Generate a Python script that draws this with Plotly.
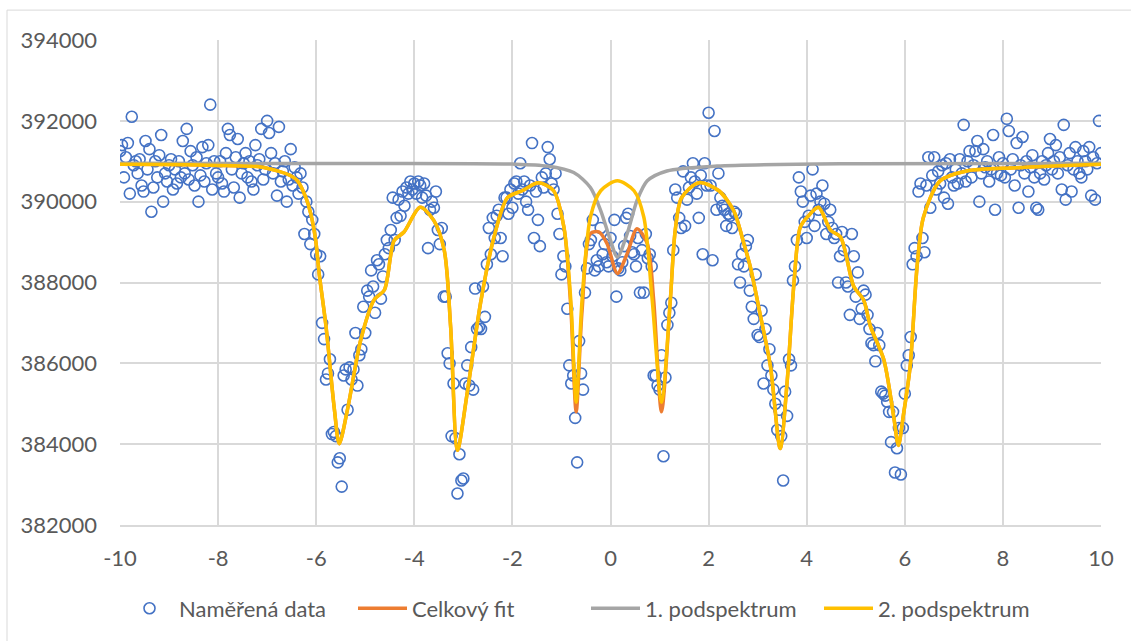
import numpy as np
import plotly.graph_objects as go

# ---------------- data ----------------
# velocity channels (mm/s), 501 channels from -10 to 10
velocity = np.round(np.linspace(-10, 10, 501), 2)

counts = [
    # -10.00 .. -9.04
    391250, 391400, 390600, 391100, 391450, 390200, 392100, 390900, 391000, 390700,
    391050, 390400, 390250, 391500, 390800, 391300, 389750, 390350, 391000, 390600,
    391150, 391650, 390000, 390700, 390500,
    # -9.00 .. -8.04
    390900, 391050, 390300, 390800, 390450, 391000, 390600, 391500, 390700, 391800,
    390550, 391250, 390900, 390400, 391100, 390000, 390650, 391350, 390500, 390950,
    391400, 392400, 390300, 391000, 390700,
    # -8.00 .. -7.04
    390600, 391000, 390450, 390250, 391200, 391800, 391650, 390800, 390350, 391100,
    391550, 390100, 390700, 390950, 391200, 390600, 391000, 390500, 390300, 391400,
    390900, 391050, 391800, 390550, 390800,
    # -7.00 .. -6.04
    392000, 391700, 391200, 390700, 390950, 390150, 391850, 390500, 390750, 391000,
    390000, 390550, 391300, 390400, 390850, 390600, 390200, 390700, 390350, 389200,
    390000, 389750, 388950, 389550, 389200,
    # -6.00 .. -5.04
    388700, 388200, 388650, 387000, 386600, 385600, 385750, 386100, 384250, 384300,
    384200, 383550, 383650, 382950, 385700, 385850, 384850, 385900, 385600, 385850,
    386750, 385450, 386200, 386350, 387400,
    # -5.00 .. -4.04
    386750, 387800, 387650, 388300, 387900, 387250, 388550, 388450, 387600, 388150,
    388700, 389050, 388850, 389300, 390100, 389050, 389600, 390050, 389650, 390250,
    389900, 390350, 390200, 390500, 390300,
    # -4.00 .. -3.04
    390450, 390200, 390500, 390400, 390100, 390450, 390150, 388850, 389800, 390000,
    389850, 390250, 389300, 388950, 389350, 387650, 387650, 386250, 386000, 384200,
    385500, 384150, 382780, 383750, 383100,
    # -3.00 .. -2.04
    383150, 385500, 385950, 385450, 386400, 385350, 387850, 386850, 386900, 386850,
    387900, 387150, 388450, 389350, 388700, 389600, 389100, 389650, 389800, 389100,
    388650, 390100, 390100, 389700, 390300,
    # -2.00 .. -1.04
    389850, 390450, 390500, 390200, 390950, 390300, 390500, 390000, 389800, 390400,
    391450, 389100, 390250, 389550, 388900, 390600, 390350, 390700, 391350, 391050,
    390450, 390300, 390700, 389700, 389200,
    # -1.00 .. -0.04
    388200, 388650, 388400, 387350, 385950, 385500, 385700, 384650, 383550, 386550,
    385750, 385350, 387750, 388350, 388950, 389050, 389550, 388300, 388550, 388400,
    389350, 388700, 388950, 388500, 388400,
    # 0.00 .. 0.96
    389100, 388650, 389550, 387650, 388350, 388300, 388500, 388900, 389600, 389700,
    389150, 388750, 388700, 388400, 389100, 387750, 388800, 387750, 389200, 388600,
    388700, 388400, 385700, 385700, 385450,
    # 1.00 .. 1.96
    385350, 386200, 383700, 385650, 386950, 387250, 387500, 388800, 390300, 390100,
    389600, 389350, 390750, 389400, 390050, 390350, 390600, 390950, 390500, 390200,
    389600, 390650, 388700, 390950, 390400,
    # 2.00 .. 2.96
    392200, 390400, 388550, 391750, 389800, 390700, 390100, 389900, 389800, 389400,
    389700, 389650, 389350, 389750, 389700, 388450, 388000, 388700, 388400, 388900,
    389050, 387800, 387400, 387100, 388200,
    # 3.00 .. 3.96
    386700, 386650, 387300, 385500, 386850, 385950, 386350, 385700, 385350, 385000,
    384350, 384850, 384200, 383100, 385300, 384700, 386100, 385950, 388050, 388400,
    389050, 390600, 390250, 390000, 389500,
    # 4.00 .. 4.96
    389100, 389650, 390150, 390800, 389400, 390200, 389800, 390000, 390400, 389950,
    389200, 389500, 389800, 389350, 389100, 389200, 388000, 388650, 389250, 388800,
    388000, 387900, 387200, 389200, 388650,
    # 5.00 .. 5.96
    387650, 388250, 387100, 387350, 387800, 387700, 387200, 386850, 386500, 386450,
    386050, 386750, 386450, 385300, 385250, 385200, 385050, 384800, 384050, 384800,
    383300, 383900, 384400, 383250, 384400,
    # 6.00 .. 6.96
    385250, 385950, 386200, 386650, 388450, 388850, 388650, 390250, 390450, 389100,
    388750, 390400, 391100, 389850, 390650, 391100, 390300, 390750, 390450, 390900,
    390100, 390950, 389950, 391050, 390600,
    # 7.00 .. 7.96
    390400, 390800, 390450, 391050, 390700, 391900, 390500, 391000, 391250, 390600,
    390900, 391250, 391500, 390000, 390700, 391300, 390850, 391000, 390500, 390800,
    391650, 389800, 390700, 391100, 390650,
    # 8.00 .. 8.96
    390950, 390600, 392050, 391750, 390800, 391050, 390400, 391450, 389850, 390900,
    391600, 390700, 391000, 390250, 390850, 391150, 390600, 389850, 389800, 390700,
    391000, 390550, 390900, 391200, 391550,
    # 9.00 .. 10.00
    390800, 391000, 391400, 390700, 391100, 390300, 391900, 390050, 390900, 391200,
    390250, 390800, 391350, 391000, 390700, 390600, 391250, 391000, 390800, 391350,
    390150, 391100, 390050, 390950, 392000, 391200,
]

# fitted curves (x in mm/s, y in counts)
sub2_x = [-10, -9, -8.15, -7.13, -6.79, -6.52, -6.38, -6.21, -6.11, -6.01, -5.94, -5.80,
          -5.63, -5.53, -5.36, -5.09, -4.82, -4.61, -4.41, -4.21, -3.88, -3.60, -3.39,
          -3.26, -3.12, -2.92, -2.65, -2.38, -2.10, -1.80, -1.47, -1.16, -0.95, -0.81,
          -0.70, -0.58, -0.41, -0.20, 0.14, 0.48, 0.68, 0.85, 1.04, 1.22, 1.32, 1.45,
          1.80, 2.21, 2.51, 2.72, 2.85, 3.06, 3.26, 3.46, 3.60, 3.74, 3.87, 4.04, 4.24,
          4.49, 4.69, 4.96, 5.16, 5.30, 5.57, 5.77, 5.87, 5.97, 6.11, 6.25, 6.38, 6.72,
          7.26, 8.28, 10]
sub2_y = [390925, 390920, 390900, 390860, 390760, 390640, 390515, 390100, 389700, 389040,
          388230, 386915, 384870, 384010, 384870, 386590, 387570, 387815, 389040, 389250,
          389860, 389530, 388800, 386915, 383850, 385280, 387490, 389100, 390100, 390270,
          390470, 390270, 389370, 387570, 385040, 387570, 389615, 390270, 390515, 390270,
          389615, 387570, 385040, 387570, 389300, 390100, 390470, 390270, 389780, 388960,
          388390, 387160, 385935, 383890, 385525, 387980, 389370, 389655, 389860, 389290,
          389125, 387900, 387570, 386915, 386100, 384710, 383970, 384710, 385935, 388390,
          389615, 390515, 390760, 390840, 390925]

total_x = [-10, -9, -8.15, -7.13, -6.79, -6.52, -6.38, -6.21, -6.11, -6.01, -5.94, -5.80,
           -5.63, -5.53, -5.36, -5.09, -4.82, -4.61, -4.41, -4.21, -3.88, -3.60, -3.39,
           -3.26, -3.12, -2.92, -2.65, -2.38, -2.10, -1.80, -1.47, -1.16, -0.95, -0.81,
           -0.70, -0.58, -0.41, -0.24, -0.07, 0.14, 0.34, 0.54, 0.75, 0.88, 1.04, 1.22,
           1.32, 1.45, 1.80, 2.21, 2.51, 2.72, 2.85, 3.06, 3.26, 3.46, 3.60, 3.74, 3.87,
           4.04, 4.24, 4.49, 4.69, 4.96, 5.16, 5.30, 5.57, 5.77, 5.87, 5.97, 6.11, 6.25,
           6.38, 6.72, 7.26, 8.28, 10]
total_y = [390925, 390920, 390900, 390860, 390760, 390640, 390515, 390100, 389700, 389040,
           388230, 386915, 384870, 384010, 384870, 386590, 387570, 387815, 389040, 389250,
           389860, 389530, 388800, 386915, 383850, 385280, 387490, 389100, 390100, 390270,
           390470, 390270, 389370, 387400, 384800, 387300, 389210, 389250, 388960, 388225,
           388715, 389330, 388960, 387570, 384800, 387570, 389300, 390100, 390470, 390270,
           389780, 388960, 388390, 387160, 385935, 383890, 385525, 387980, 389370, 389655,
           389860, 389290, 389125, 387900, 387570, 386915, 386100, 384710, 383970, 384710,
           385935, 388390, 389615, 390515, 390760, 390840, 390925]

sub1_x = [-10, -5, -2, -1.29, -0.75, -0.41, -0.20, 0.0, 0.14, 0.34, 0.54, 0.75, 1.15,
          2.17, 5, 10]
sub1_y = [390950, 390945, 390930, 390880, 390720, 390350, 389780, 389040, 388630, 389210,
          390025, 390515, 390760, 390880, 390940, 390950]

x_ticks = [-10, -8, -6, -4, -2, 0, 2, 4, 6, 8, 10]
y_ticks = [382000, 384000, 386000, 388000, 390000, 392000, 394000]

# ---------------- figure ----------------
FONT = "Lato"
TXT = "#595959"
FS = 22

fig = go.Figure()
fig.add_trace(go.Scatter(
    x=velocity, y=counts, mode="markers", name="Naměřená data",
    marker=dict(symbol="circle-open", size=11, color="#4472C4", line=dict(width=1.6)),
))
fig.add_trace(go.Scatter(
    x=total_x, y=total_y, mode="lines", name="Celkový fit",
    line=dict(color="#ED7D31", width=3.5, shape="spline", smoothing=0.8),
))
fig.add_trace(go.Scatter(
    x=sub1_x, y=sub1_y, mode="lines", name="1. podspektrum",
    line=dict(color="#A5A5A5", width=3.5, shape="spline", smoothing=0.8),
))
fig.add_trace(go.Scatter(
    x=sub2_x, y=sub2_y, mode="lines", name="2. podspektrum",
    line=dict(color="#FFC000", width=3.5, shape="spline", smoothing=0.8),
))

L, R, T, B = 120, 30, 40, 114
W, H = 1131, 641
ph = H - T - B
pw = W - L - R

fig.update_layout(
    width=W, height=H,
    margin=dict(l=L, r=R, t=T, b=B, pad=0),
    paper_bgcolor="white", plot_bgcolor="white",
    font=dict(family=FONT, size=FS, color=TXT),
    showlegend=True,
    legend=dict(orientation="h", x=(120 - L) / pw, xanchor="left", y=-0.172, yanchor="middle",
                font=dict(family=FONT, size=FS, color=TXT), itemwidth=49,
                entrywidth=169, entrywidthmode="pixels",
                bgcolor="rgba(0,0,0,0)"),
    xaxis=dict(range=[-10, 10], tickvals=x_ticks, ticktext=[str(v) for v in x_ticks],
               showgrid=True, gridcolor="#D9D9D9", gridwidth=1.5,
               zeroline=False, showline=True, linecolor="#D9D9D9", linewidth=1.5,
               ticks="", ticklabelstandoff=13,
               tickfont=dict(family=FONT, size=FS, color=TXT)),
    yaxis=dict(range=[382000, 394000], tickvals=y_ticks, ticktext=[str(v) for v in y_ticks],
               showgrid=True, gridcolor="#D9D9D9", gridwidth=1.5,
               zeroline=False, showline=False,
               ticks="", ticklabelstandoff=22,
               tickfont=dict(family=FONT, size=FS, color=TXT)),
    shapes=[dict(type="rect", xref="paper", yref="paper",
                 x0=(7 - L) / pw, x1=(W + 5 - L) / pw,
                 y0=-(H + 5 - T - ph) / ph, y1=1 + (T - 10) / ph,
                 line=dict(color="#D9D9D9", width=1), fillcolor="rgba(0,0,0,0)",
                 layer="below")],
)

fig.write_html("out.html")
